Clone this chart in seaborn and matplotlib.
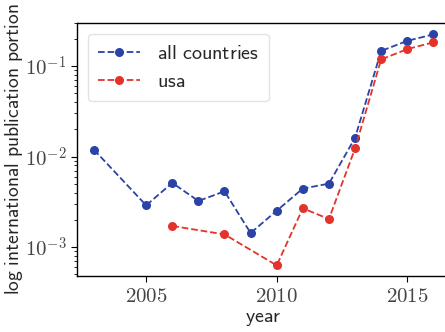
import matplotlib
matplotlib.use("Agg")
import matplotlib.pyplot as plt
from matplotlib.ticker import FuncFormatter, LogLocator
import seaborn as sns
import pandas as pd
import numpy as np

# International publication portion per year
years_all = [2003, 2005, 2006, 2007, 2008, 2009, 2010, 2011, 2012, 2013, 2014, 2015, 2016]
portion_all = [0.0119, 0.00289, 0.00512, 0.00323, 0.00413, 0.00143, 0.00252,
               0.00443, 0.00502, 0.0161, 0.147, 0.190, 0.224]

years_usa = [2006, 2008, 2010, 2011, 2012, 2013, 2014, 2015, 2016]
portion_usa = [0.00171, 0.00138, 0.000627, 0.00268, 0.00204, 0.0123, 0.1185, 0.154, 0.183]

series_names = ["all countries", "usa"]
colors = ["#2b42a6", "#e3332b"]

df = pd.concat([
    pd.DataFrame({"year": years_all, "portion": portion_all, "group": series_names[0]}),
    pd.DataFrame({"year": years_usa, "portion": portion_usa, "group": series_names[1]}),
])

sns.set_style("ticks")
plt.rcParams["mathtext.fontset"] = "cm"

fig = plt.figure(figsize=(4.45, 3.32), dpi=100)
ax = fig.add_axes([0.173, 0.169, 0.839, 0.762])

for name, col in zip(series_names, colors):
    sub = df[df["group"] == name]
    sns.lineplot(data=sub, x="year", y="portion", ax=ax, color=col,
                 linestyle="--", marker="o", markersize=6.5, markeredgewidth=0,
                 linewidth=1.3, label=r"$\mathsf{" + name.replace(" ", r"\ ") + "}$")

ax.set_yscale("log")
ax.set_xlim(2002.35, 2016.65)
ax.set_ylim(4.8e-4, 0.30)
ax.set_xticks([2005, 2010, 2015])
ax.set_xticklabels([r"$2005$", r"$2010$", r"$2015$"])
ax.yaxis.set_major_locator(LogLocator(base=10))
ax.yaxis.set_major_formatter(FuncFormatter(lambda v, p: r"$10^{%d}$" % int(round(np.log10(v)))))

for lbl in ax.get_xticklabels() + ax.get_yticklabels():
    lbl.set_fontsize(15)
    lbl.set_color("#444444")

ax.set_xlabel(r"$\mathsf{year}$", fontsize=14.5, labelpad=2)
ax.set_ylabel(r"$\mathsf{log\ international\ publication\ portion}$", fontsize=14.1, labelpad=0)

for s in ["top", "right", "left", "bottom"]:
    ax.spines[s].set_visible(True)
    ax.spines[s].set_color("black")
    ax.spines[s].set_linewidth(1.0)

ax.tick_params(axis="both", which="major", length=4, color="black", width=0.8)
ax.tick_params(axis="y", which="minor", length=2.5, color="black", width=0.6)

leg = ax.legend(loc="upper left", fontsize=14.5, handlelength=2.1, handletextpad=0.8,
                borderpad=0.5, labelspacing=0.45, frameon=True,
                bbox_to_anchor=(0.0, 1.0), borderaxespad=0.55)
leg.get_frame().set_edgecolor("#dddddd")

fig.savefig("out.png", dpi=100)
